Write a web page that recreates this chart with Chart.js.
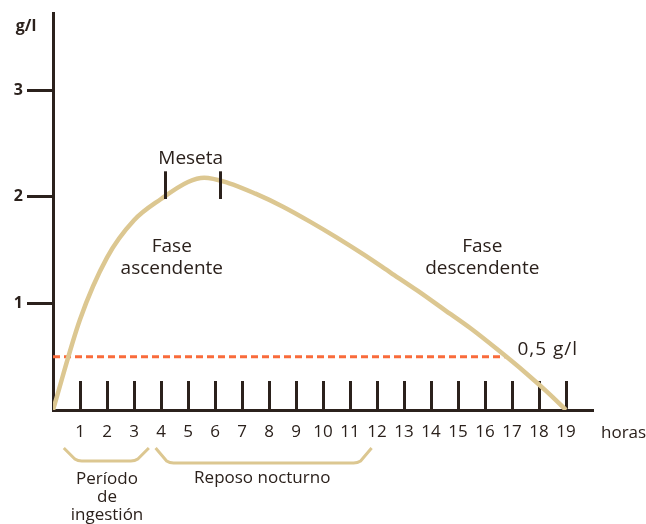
<!DOCTYPE html>
<html>
<head>
<meta charset="utf-8">
<script src="https://cdn.jsdelivr.net/npm/chart.js@4/dist/chart.umd.min.js"></script>
<style>
  body { margin: 0; background: #fff; }
  #wrap { width: 646px; height: 524px; }
</style>
</head>
<body>
<div id="wrap"><canvas id="alcoholChart" width="646" height="524"></canvas></div>
<script>
// blood alcohol curve (g/l) over hours
const hours = [0, 1, 2, 3, 4, 5, 5.6, 6.5, 7.5, 8.5, 9.5, 10.5, 11.5, 12.5, 13.5, 14.5, 15.5, 16.5, 17.5, 18.3, 19];
const alcohol = [0, 0.85, 1.43, 1.78, 1.98, 2.14, 2.18, 2.13, 2.03, 1.91, 1.77, 1.62, 1.46, 1.29, 1.12, 0.94, 0.76, 0.56, 0.35, 0.17, 0];

const hourTicks = [1, 2, 3, 4, 5, 6, 7, 8, 9, 10, 11, 12, 13, 14, 15, 16, 17, 18, 19];
const levelTicks = [1, 2, 3];

const limitLevel = 0.5;
const limitHours = [0, 16.8];
const plateauHours = [4.15, 6.2];

const ink = '#2b211c';
const tan = '#dcc791';
const orange = '#f96b3b';
const font = '"Open Sans", "Noto Sans", sans-serif';

function text(ctx, str, px, py, size, align, weight, spacing) {
  ctx.font = (weight || 'normal') + ' ' + size + 'px ' + font;
  ctx.textAlign = align || 'center';
  ctx.textBaseline = 'middle';
  ctx.fillStyle = ink;
  ctx.letterSpacing = spacing || '0px';
  ctx.fillText(str, px, py);
  ctx.letterSpacing = '0px';
}

function brace(ctx, x1, x2, top, depth) {
  ctx.beginPath();
  ctx.moveTo(x1, top);
  ctx.lineTo(x1 + 11, top + depth - 2);
  ctx.quadraticCurveTo(x1 + 14, top + depth, x1 + 18, top + depth);
  ctx.lineTo(x2 - 18, top + depth);
  ctx.quadraticCurveTo(x2 - 14, top + depth, x2 - 11, top + depth - 2);
  ctx.lineTo(x2, top);
  ctx.stroke();
}

const extras = {
  id: 'extras',
  beforeDatasetsDraw(chart) {
    const { ctx, scales: { x, y } } = chart;
    const base = y.getPixelForValue(0);
    ctx.save();
    ctx.strokeStyle = ink;
    ctx.lineWidth = 3;
    hourTicks.forEach(h => {
      const px = Math.round(x.getPixelForValue(h)) + 0.5;
      ctx.beginPath();
      ctx.moveTo(px, base);
      ctx.lineTo(px, base - 29);
      ctx.stroke();
    });
    ctx.restore();
  },
  afterDatasetsDraw(chart) {
    const { ctx, scales: { x, y } } = chart;
    ctx.save();

    // plateau marks
    ctx.strokeStyle = ink;
    ctx.lineWidth = 3;
    plateauHours.forEach(h => {
      const px = Math.round(x.getPixelForValue(h)) + 0.5;
      ctx.beginPath();
      ctx.moveTo(px, y.getPixelForValue(2.24));
      ctx.lineTo(px, y.getPixelForValue(1.98));
      ctx.stroke();
    });

    text(ctx, 'Meseta', x.getPixelForValue(5.1), y.getPixelForValue(2.36), 19, 'center', '500');
    text(ctx, 'Fase', x.getPixelForValue(4.4), y.getPixelForValue(1.53), 19, 'center', '500');
    text(ctx, 'ascendente', x.getPixelForValue(4.4), y.getPixelForValue(1.33), 19, 'center', '500');
    text(ctx, 'Fase', x.getPixelForValue(15.9), y.getPixelForValue(1.53), 19, 'center', '500');
    text(ctx, 'descendente', x.getPixelForValue(15.9), y.getPixelForValue(1.33), 19, 'center', '500');
    text(ctx, '0,5 g/l', x.getPixelForValue(17.2), y.getPixelForValue(0.57), 19, 'left', '500', '1px');

    text(ctx, 'g/l', x.left - 27, y.getPixelForValue(3.6), 16, 'center', 'bold');
    text(ctx, 'horas', x.right + 8, y.bottom + 23, 17, 'left');

    // braces under the hour axis
    ctx.strokeStyle = tan;
    ctx.lineWidth = 3;
    ctx.lineJoin = 'round';
    brace(ctx, x.getPixelForValue(0.4), x.getPixelForValue(3.55), y.bottom + 38, 13);
    brace(ctx, x.getPixelForValue(3.8), x.getPixelForValue(11.8), y.bottom + 38, 15);

    text(ctx, 'Período', x.getPixelForValue(2.0), y.bottom + 69, 17);
    text(ctx, 'de', x.getPixelForValue(2.0), y.bottom + 87, 17);
    text(ctx, 'ingestión', x.getPixelForValue(2.0), y.bottom + 105, 17);
    text(ctx, 'Reposo nocturno', x.getPixelForValue(7.75), y.bottom + 68, 17);

    ctx.restore();
  }
};

new Chart(document.getElementById('alcoholChart').getContext('2d'), {
  type: 'line',
  data: {
    datasets: [
      {
        label: 'Alcoholemia',
        data: hours.map((h, i) => ({ x: h, y: alcohol[i] })),
        borderColor: tan,
        borderWidth: 4.5,
        pointRadius: 0,
        cubicInterpolationMode: 'monotone',
        fill: false
      },
      {
        label: 'Límite',
        data: limitHours.map(h => ({ x: h, y: limitLevel })),
        borderColor: orange,
        borderWidth: 3,
        borderDash: [7, 4],
        pointRadius: 0,
        fill: false
      }
    ]
  },
  options: {
    responsive: false,
    animation: false,
    layout: { padding: { top: 12, right: 53, left: 0, bottom: 0 } },
    plugins: {
      legend: { display: false },
      tooltip: { enabled: false }
    },
    scales: {
      x: {
        type: 'linear',
        min: 0,
        max: 20,
        afterFit(scale) { scale.height = 114; },
        afterBuildTicks(scale) { scale.ticks = hourTicks.map(v => ({ value: v })); },
        grid: { display: false, drawTicks: false },
        border: { display: true, color: ink, width: 3 },
        ticks: {
          autoSkip: false,
          maxRotation: 0,
          padding: 12,
          color: ink,
          font: { family: font, size: 17 }
        }
      },
      y: {
        type: 'linear',
        min: 0,
        max: 3.72,
        afterFit(scale) { scale.width = 53; },
        afterBuildTicks(scale) { scale.ticks = levelTicks.map(v => ({ value: v })); },
        grid: {
          display: true,
          drawOnChartArea: false,
          drawTicks: true,
          tickLength: 26,
          tickWidth: 3,
          tickColor: ink
        },
        border: { display: true, color: ink, width: 3 },
        ticks: {
          padding: 4,
          color: ink,
          font: { family: font, size: 16, weight: 'bold' }
        }
      }
    }
  },
  plugins: [extras]
});
</script>
</body>
</html>
